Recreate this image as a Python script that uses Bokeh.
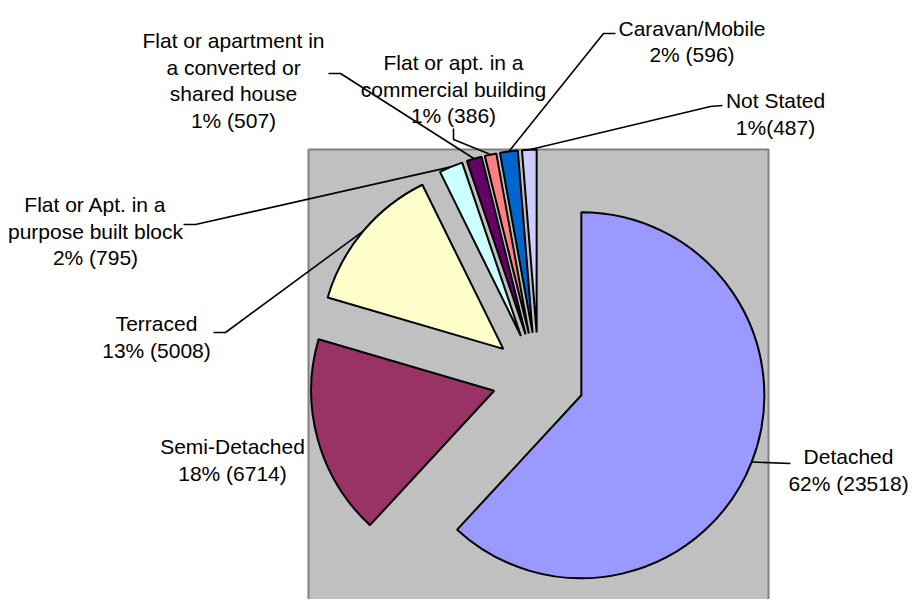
import numpy as np
from bokeh.plotting import figure
from bokeh.models import Range1d, ColumnDataSource
from bokeh.embed import file_html
from bokeh.resources import INLINE
from bokeh.core.properties import value

# ---- data ----
categories = ["Detached", "Semi-Detached", "Terraced",
              "Flat or Apt. in a purpose built block",
              "Flat or apartment in a converted or shared house",
              "Flat or apt. in a commercial building",
              "Caravan/Mobile", "Not Stated"]
counts = [23518, 6714, 5008, 795, 507, 386, 596, 487]
colors = ["#9999FF", "#993366", "#FFFFCC", "#CCFFFF",
          "#660066", "#FF8080", "#0066CC", "#CCCCFF"]
name_lines = [["Detached"], ["Semi-Detached"], ["Terraced"],
              ["Flat or Apt. in a", "purpose built block"],
              ["Flat or apartment in", "a converted or", "shared house"],
              ["Flat or apt. in a", "commercial building"],
              ["Caravan/Mobile"], ["Not Stated"]]
value_sep = [" ", " ", " ", " ", " ", " ", " ", ""]

# ---- layout (pixel coordinates, origin at top-left of the picture) ----
W, H = 908, 599
def sy(y):
    return H - y

CX, CY = 538, 378      # pie centre
R = 183                # radius
EXPLODE = 46           # explosion distance

label_cx = [848, 232, 156, 95, 233, 453, 691.5, 775]
label_base = [456, 446, 323, 204, 40, 62, 27.5, 100]
LINE_GAP = 26.7
leader_elbows = [[(790, 463)], [], [(213, 332), (225, 332)], [(183, 224), (195, 224)],
                 [(328, 73), (340, 73)], [(453, 128), (453, 139)],
                 [(615, 33), (603, 33)], [(722, 105), (710, 106)]]

counts_a = np.array(counts, dtype=float)
total = counts_a.sum()
frac = counts_a / total
cum = np.concatenate([[0], np.cumsum(frac)]) * 2 * np.pi   # clockwise from top
a0, a1 = cum[:-1], cum[1:]
mid = (a0 + a1) / 2
dx, dy = np.sin(mid), -np.cos(mid)       # screen direction (y down)
apex_x = CX + EXPLODE * dx
apex_y = CY + EXPLODE * dy

p = figure(width=W, height=H, x_range=Range1d(0, W), y_range=Range1d(0, H),
           output_backend="svg", toolbar_location=None, min_border=0)
p.axis.visible = False
p.grid.visible = False
p.outline_line_color = None
p.background_fill_color = "white"
p.border_fill_color = "white"

# plot area
p.quad(left=[308], right=[768], top=[sy(149)], bottom=[sy(625)],
       fill_color="#C0C0C0", line_color="#808080", line_width=2)

src = ColumnDataSource(dict(
    x=apex_x, y=sy(apex_y),
    start=np.pi / 2 - a0, end=np.pi / 2 - a1,
    color=colors, name=categories))
p.wedge(x="x", y="y", radius=R, start_angle="start", end_angle="end",
        direction="clock", fill_color="color", line_color="black",
        line_width=2, source=src)

# leader lines
for i, elb in enumerate(leader_elbows):
    if not elb:
        continue
    ex = CX + (EXPLODE + R) * dx[i]
    ey = CY + (EXPLODE + R) * dy[i]
    xs = [pt[0] for pt in elb] + [ex]
    ys = [sy(pt[1]) for pt in elb] + [sy(ey)]
    p.line(xs, ys, line_color="black", line_width=1.6)

# labels
tx, ty, tt = [], [], []
for i in range(len(categories)):
    pct = int(round(frac[i] * 100))
    lines = name_lines[i] + [f"{pct}%{value_sep[i]}({counts[i]})"]
    for j, ln in enumerate(lines):
        tx.append(label_cx[i])
        ty.append(sy(label_base[i] + j * LINE_GAP))
        tt.append(ln)
p.text(x=tx, y=ty, text=tt, text_align="center", text_baseline="alphabetic",
       text_font=value("Liberation Sans"), text_font_size="21px", text_color="black")

open("out.html", "w").write(file_html(p, INLINE))
